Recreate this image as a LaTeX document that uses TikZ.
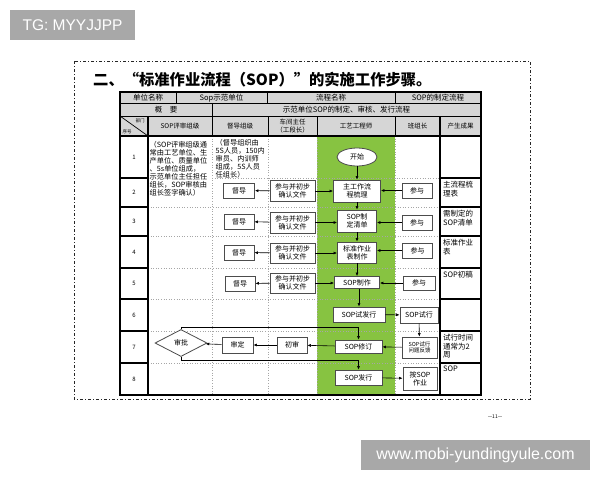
\documentclass[tikz,border=0pt]{standalone}
\usepackage{fontspec}
\setmainfont{Noto Sans CJK SC}
\newfontfamily\wmfont{Liberation Sans}
\usetikzlibrary{shapes.geometric,arrows.meta}
\definecolor{sopgreen}{RGB}{135,195,65}
\definecolor{hdrgray}{RGB}{214,214,214}
\definecolor{wmgray}{RGB}{168,168,168}
\begin{document}
\begin{tikzpicture}[x=1pt,y=-1pt,
  fb/.style={draw=black!70, line width=0.8pt, fill=white, align=center, inner sep=0pt,
    font=\fontsize{7}{8}\selectfont},
  hd/.style={align=center, inner sep=0pt, font=\fontsize{7.5}{8.5}\selectfont},
  ch/.style={align=center, inner sep=0pt, font=\fontsize{6.5}{7.5}\selectfont},
  num/.style={inner sep=0pt, font=\fontsize{6}{7}\selectfont},
  res/.style={anchor=north west, align=left, inner sep=0pt, font=\fontsize{7.5}{8.5}\selectfont},
  para/.style={anchor=north west, align=left, inner sep=0pt, font=\fontsize{7.2}{8.1}\selectfont},
  arr/.style={-{Latex[length=3.5pt,width=3pt]}, line width=0.6pt, black},
  dotline/.style={gray!70, dotted, line width=0.6pt},
  solidline/.style={black, line width=1.1pt},
  hline/.style={black, line width=0.7pt}]
\useasboundingbox (0,0) rectangle (600,480);

% watermarks
\node[fill=wmgray, minimum width=125pt, minimum height=30pt, inner sep=0pt,
  text=white, font=\wmfont\fontsize{15.5}{16}\selectfont] (wm1) at (72.5,25) {TG: MYYJJPP};
\node[fill=wmgray, minimum width=229pt, minimum height=30pt, inner sep=0pt,
  text=white, font=\wmfont\fontsize{16}{17}\selectfont] (wm2) at (475.5,455) {www.mobi-yundingyule.com};

% dashed page frame
\draw[gray!30!black, line width=0.8pt, dash pattern=on 3pt off 2pt on 1pt off 2pt] (74,61) rectangle (530,399);

% title
\node[anchor=west, inner sep=0pt, font=\fontsize{15.3}{16}\selectfont\bfseries] (title) at (93,80)
  {二、“标准作业流程（SOP）”的实施工作步骤。};

% page number
\node[inner sep=0pt, font=\fontsize{5}{6}\selectfont] (pg) at (495,417) {—11—};

% table fills
\fill[white] (120,92) rectangle (481,395);
\fill[hdrgray] (120,92) rectangle (481,136);
\fill[sopgreen] (317,136) rectangle (395,395);

% body dotted lines
\draw[dotline] (212,178) -- (440,178);
\foreach \yy in {207,236,268,299,331,363} { \draw[dotline] (148,\yy) -- (440,\yy); }
\foreach \xx in {212,268,317,395} { \draw[dotline] (\xx,136) -- (\xx,395); }
% solid row lines in first and last column
\foreach \yy in {178,207,236,268,299,331,363} {
  \draw[solidline] (120,\yy) -- (148,\yy);
  \draw[solidline] (440,\yy) -- (481,\yy);
}
\draw[solidline] (148,116) -- (148,395);
\draw[solidline] (440,116) -- (440,395);
% header lines
\draw[hline] (120,103.5) -- (481,103.5);
\draw[hline] (120,116) -- (481,116);
\draw[solidline] (120,136) -- (481,136);
\foreach \xx in {176,267,395} { \draw[hline] (\xx,92) -- (\xx,103.5); }
\draw[hline] (212,103.5) -- (212,116);
\foreach \xx in {212,268,317,395} { \draw[hline] (\xx,116) -- (\xx,136); }
\draw[hline] (120,116) -- (148,136);
\draw[line width=1.3pt] (120,92) rectangle (481,395);

% header texts
\node[hd] (h11) at (148,97.75) {单位名称};
\node[hd] (h12) at (221.5,97.75) {Sop示范单位};
\node[hd] (h13) at (331,97.75) {流程名称};
\node[hd] (h14) at (438,97.75) {SOP的制定流程};
\node[hd] (h21) at (166,109.75) {概　要};
\node[hd] (h22) at (346.5,109.75) {示范单位SOP的制定、审核、发行流程};
\node[inner sep=0pt, font=\fontsize{4.5}{5}\selectfont] (c1a) at (140,121) {部门};
\node[inner sep=0pt, font=\fontsize{4.5}{5}\selectfont] (c1b) at (127,131.5) {序号};
\node[ch] (c2) at (180,126) {SOP评审组级};
\node[ch] (c3) at (240,126) {督导组级};
\node[ch] (c4) at (292.5,126) {车间主任\\（工段长）};
\node[ch] (c5) at (356,126) {工艺工程师};
\node[ch] (c6) at (417.5,126) {班组长};
\node[ch] (c7) at (460.5,126) {产生成果};

% row numbers
\node[num] (n1) at (134,157) {1};
\node[num] (n2) at (134,192.5) {2};
\node[num] (n3) at (134,221.5) {3};
\node[num] (n4) at (134,252) {4};
\node[num] (n5) at (134,283.5) {5};
\node[num] (n6) at (134,315) {6};
\node[num] (n7) at (134,347) {7};
\node[num] (n8) at (134,379) {8};

% row 1 texts
\node[para] (sopt) at (149.5,141) {（SOP评审组级通\\常由工艺单位、生\\产单位、质量单位\\、5s单位组成，\\示范单位主任担任\\组长，SOP审核由\\组长签字确认）};
\node[para] (dut) at (215.5,139) {（督导组织由\\5S人员，150内\\审员、内训师\\组成，5S人员\\任组长）};

% results column
\node[res] (r2) at (443,181) {主流程梳\\理表};
\node[res] (r3) at (443,210) {需制定的\\SOP清单};
\node[res] (r4) at (443,239) {标准作业\\表};
\node[res] (r5) at (443,271) {SOP初稿};
\node[res] (r7) at (443,334) {试行时间\\通常为2\\周};
\node[res] (r8) at (443,366) {SOP};

% flow nodes
\node[draw=black!70, line width=0.8pt, fill=white, ellipse, minimum width=40pt, minimum height=18pt,
  inner sep=0pt, font=\fontsize{7}{8}\selectfont] (start) at (357,157) {开始};

\node[fb, minimum width=31pt, minimum height=15pt] (du2) at (239,190.5) {督导};
\node[fb, minimum width=45pt, minimum height=21pt] (cy2) at (292.5,191) {参与并初步\\确认文件};
\node[fb, minimum width=47pt, minimum height=22pt] (e2) at (357,191) {主工作流\\程梳理};
\node[fb, minimum width=30pt, minimum height=15pt] (p2) at (417,190.5) {参与};

\node[fb, minimum width=30pt, minimum height=15pt] (du3) at (239,221.5) {督导};
\node[fb, minimum width=45pt, minimum height=21pt] (cy3) at (292.5,222.5) {参与并初步\\确认文件};
\node[fb, minimum width=39pt, minimum height=22pt] (e3) at (357,221) {SOP制\\定清单};
\node[fb, minimum width=30pt, minimum height=15pt] (p3) at (417,222.5) {参与};

\node[fb, minimum width=30pt, minimum height=15pt] (du4) at (239,252.5) {督导};
\node[fb, minimum width=45pt, minimum height=20pt] (cy4) at (292.5,253) {参与并初步\\确认文件};
\node[fb, minimum width=39pt, minimum height=21pt] (e4) at (357,252.5) {标准作业\\表制作};
\node[fb, minimum width=30pt, minimum height=15pt] (p4) at (417.5,250.5) {参与};

\node[fb, minimum width=30pt, minimum height=15pt] (du5) at (240,283.5) {督导};
\node[fb, minimum width=45pt, minimum height=20pt] (cy5) at (292.5,283) {参与并初步\\确认文件};
\node[fb, minimum width=45pt, minimum height=12pt] (e5) at (357,282.5) {SOP制作};
\node[fb, minimum width=32pt, minimum height=14pt] (p5) at (419,283) {参与};

\node[fb, minimum width=52pt, minimum height=15pt] (e6) at (359,314.5) {SOP试发行};
\node[fb, minimum width=38pt, minimum height=16pt] (t6) at (419,315) {SOP试行};

\node[draw=black!70, line width=0.8pt, fill=white, diamond, aspect=1.9, minimum width=52pt,
  minimum height=27pt, inner sep=0pt, font=\fontsize{7}{8}\selectfont] (dia) at (181,343) {审批};
\node[fb, minimum width=31pt, minimum height=16pt] (sd) at (237.5,345) {审定};
\node[fb, minimum width=30pt, minimum height=16pt] (cs) at (292,345) {初审};
\node[fb, minimum width=47pt, minimum height=13pt] (e7) at (358.5,346.5) {SOP修订};
\node[fb, minimum width=35pt, minimum height=21pt, font=\fontsize{5.5}{6.5}\selectfont] (fb7) at (419.5,347.5) {SOP试行\\问题反馈};

\node[fb, minimum width=47pt, minimum height=15pt] (e8) at (358.5,377.5) {SOP发行};
\node[fb, minimum width=34pt, minimum height=23pt] (az) at (420,378.5) {按SOP\\作业};

% connectors
\draw[arr] (start) -- (e2);
\draw[arr] (e2) -- (e3);
\draw[arr] (e3) -- (e4);
\draw[arr] (e4) -- (e5);
\draw[arr] (e5.south -| e6.north) -- (e6.north);

\foreach \r in {2,3,4,5} {
  \draw[arr] (cy\r) -- (du\r);
  \draw[arr] (cy\r.east) -- (cy\r.east -| e\r.west);
  \draw[arr] (p\r.west) -- (p\r.west -| e\r.east);
}
\draw[arr] (e6) -- (t6);
\draw[arr] (t6) -- (fb7);
\draw[arr] (fb7) -- (e7);
\draw[arr] (e7) -- (cs);
\draw[arr] (cs) -- (sd);
\draw[arr] (sd) -- (dia);
\draw[arr] (dia.north) -- ++(0,-2) -| (e7.north);
\draw[arr] (dia.south) -- ++(0,3) -| (e8.north);
\draw[arr] (e8) -- (az);
\end{tikzpicture}
\end{document}
